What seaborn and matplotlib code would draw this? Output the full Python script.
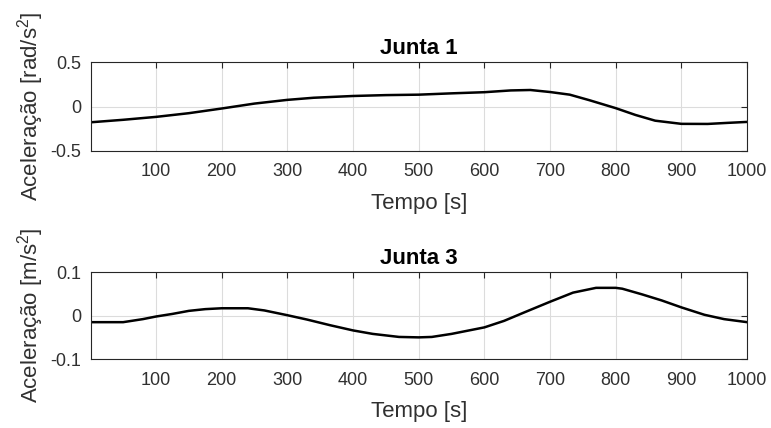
import matplotlib
matplotlib.use("Agg")
import matplotlib.pyplot as plt
import seaborn as sns
import pandas as pd

# Joint 1 angular acceleration [rad/s^2] over time [s]
tempo_j1 = [1, 50, 100, 150, 200, 250, 300, 340, 400, 450, 500, 550, 600,
            640, 670, 700, 730, 760, 800, 830, 860, 900, 940, 970, 1000]
acel_j1 = [-0.178, -0.150, -0.117, -0.075, -0.022, 0.034, 0.076, 0.100, 0.120,
           0.130, 0.135, 0.150, 0.163, 0.183, 0.188, 0.165, 0.135, 0.072,
           -0.018, -0.095, -0.160, -0.196, -0.197, -0.185, -0.174]

# Joint 3 linear acceleration [m/s^2] over time [s]
tempo_j3 = [1, 50, 80, 100, 125, 150, 175, 200, 240, 265, 300, 330, 365, 400,
            430, 470, 500, 520, 550, 600, 630, 660, 700, 735, 770, 800, 810,
            840, 870, 900, 935, 965, 1000]
acel_j3 = [-0.015, -0.015, -0.008, -0.002, 0.004, 0.011, 0.015, 0.017, 0.017,
           0.012, 0.001, -0.009, -0.022, -0.034, -0.042, -0.049, -0.050,
           -0.049, -0.042, -0.027, -0.012, 0.007, 0.032, 0.053, 0.064, 0.064,
           0.062, 0.049, 0.035, 0.019, 0.002, -0.008, -0.015]

titulos = ["Junta 1", "Junta 3"]
rotulos_y = ["Aceleração [rad/s$^{\\mathregular{2}}$]",
             "Aceleração [m/s$^{\\mathregular{2}}$]"]
limites_y = [(-0.5, 0.5), (-0.1, 0.1)]
ticks_y = [[-0.5, 0, 0.5], [-0.1, 0, 0.1]]
rotulos_ticks_y = [["-0.5", "0", "0.5"], ["-0.1", "0", "0.1"]]
ticks_x = [100, 200, 300, 400, 500, 600, 700, 800, 900, 1000]

sns.set_theme(style="white")
plt.rcParams["font.family"] = ["Liberation Sans", "DejaVu Sans"]
plt.rcParams["mathtext.fontset"] = "custom"
plt.rcParams["mathtext.rm"] = "Liberation Sans"
plt.rcParams["axes.unicode_minus"] = False

dark = "#262626"
fig = plt.figure(figsize=(7.71, 4.28), dpi=100)
fig.patch.set_facecolor("white")

boxes = [[0.118, 0.648, 0.851, 0.206], [0.118, 0.161, 0.851, 0.203]]
series = [(tempo_j1, acel_j1), (tempo_j3, acel_j3)]

for i, (t, a) in enumerate(series):
    ax = fig.add_axes(boxes[i])
    df = pd.DataFrame({"Tempo": t, "Aceleracao": a})
    sns.lineplot(data=df, x="Tempo", y="Aceleracao", ax=ax, color="black",
                 linewidth=1.8)
    ax.set_xlim(1, 1000)
    ax.set_ylim(*limites_y[i])
    ax.set_xticks(ticks_x)
    ax.set_xticklabels([str(v) for v in ticks_x])
    ax.set_yticks(ticks_y[i])
    ax.set_yticklabels(rotulos_ticks_y[i])
    ax.grid(True, color="#dcdcdc", linewidth=0.8)
    ax.set_axisbelow(True)
    for s in ax.spines.values():
        s.set_color(dark)
        s.set_linewidth(0.8)
    ax.tick_params(direction="in", length=4.3, width=0.8, colors=dark,
                   top=True, right=True, labelsize=13, pad=7,
                   labelcolor="#303030")
    ax.tick_params(axis="x", pad=9)
    ax.set_title(titulos[i], fontsize=16, fontweight="bold", color="black",
                 pad=6)
    ax.set_xlabel("Tempo [s]", fontsize=16, color="#303030", labelpad=9)
    ax.set_ylabel(rotulos_y[i], fontsize=16, color="#303030", labelpad=3)

fig.savefig("out.png", dpi=100, facecolor="white")
